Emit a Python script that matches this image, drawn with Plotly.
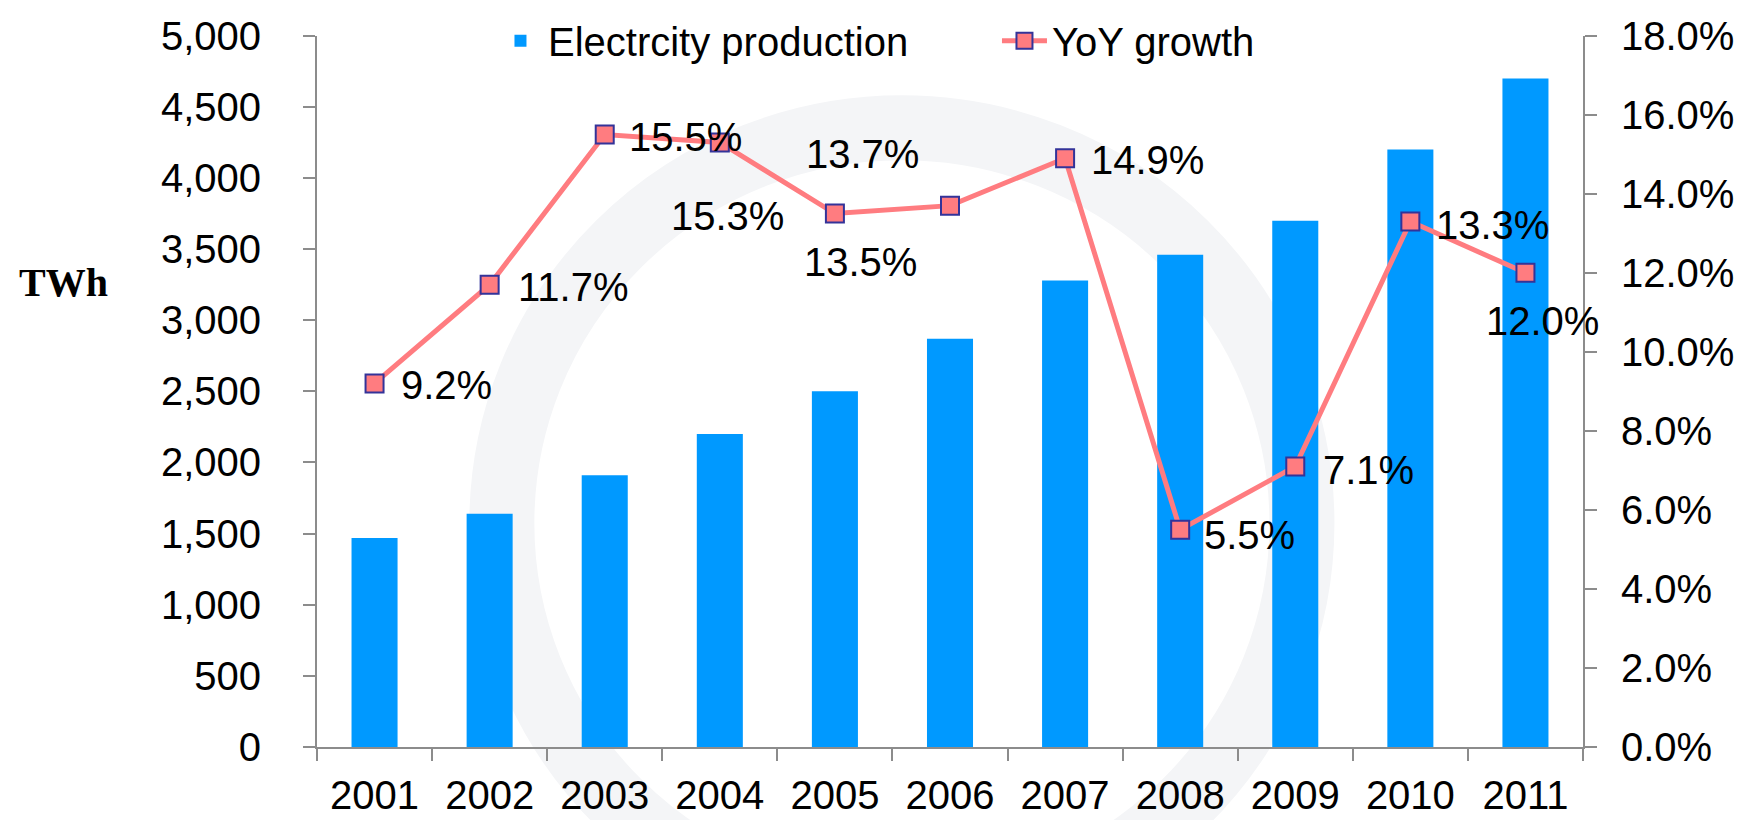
import plotly.graph_objects as go

years = ["2001", "2002", "2003", "2004", "2005", "2006",
         "2007", "2008", "2009", "2010", "2011"]
production_twh = [1470, 1640, 1910, 2200, 2500, 2870, 3280, 3460, 3700, 4200, 4700]
yoy_growth = [9.2, 11.7, 15.5, 15.3, 13.5, 13.7, 14.9, 5.5, 7.1, 13.3, 12.0]
growth_labels = ["9.2%", "11.7%", "15.5%", "15.3%", "13.5%", "13.7%",
                 "14.9%", "5.5%", "7.1%", "13.3%", "12.0%"]

left_ticks = [0, 500, 1000, 1500, 2000, 2500, 3000, 3500, 4000, 4500, 5000]
right_ticks = [0, 2, 4, 6, 8, 10, 12, 14, 16, 18]
right_labels = ["0.0%", "2.0%", "4.0%", "6.0%", "8.0%", "10.0%",
                "12.0%", "14.0%", "16.0%", "18.0%"]

# label placement around each marker: (anchor, xshift, yshift)
label_place = [("left", 24, -2), ("left", 26, -2), ("left", 22, -2),
               ("center", 8, -74), ("center", 26, -48), ("center", -88, 52),
               ("left", 24, -2), ("left", 22, -5), ("left", 26, -4),
               ("left", 24, -4), ("center", 17, -48)]

FONT = "Liberation Sans, Arial, sans-serif"
AXIS = "#8c8c8c"
TOP = 0.973  # plot top inside the paper, leaves room for the legend

fig = go.Figure()

fig.add_trace(go.Bar(
    x=years, y=production_twh, name="Electrcity production",
    marker=dict(color="#0099ff", line=dict(width=0)),
))

fig.add_trace(go.Scatter(
    x=years, y=yoy_growth, name="YoY growth", yaxis="y2",
    mode="lines+markers",
    line=dict(color="#ff7c80", width=5),
    marker=dict(symbol="square", size=18, color="#ff7c80",
                line=dict(color="#333399", width=2)),
    cliponaxis=False,
))

# category axis: annotations take the category index
for i, (val, lab, (anc, dx, dy)) in enumerate(zip(yoy_growth, growth_labels, label_place)):
    fig.add_annotation(x=i, y=val, xref="x", yref="y2", text=lab,
                       showarrow=False, xanchor=anc, yanchor="middle",
                       xshift=dx, yshift=dy,
                       font=dict(size=40, color="black", family=FONT))

# faint watermark ring behind the chart
fig.add_shape(type="circle", xref="paper", yref="paper", layer="below",
              x0=0.146, x1=0.778, y0=-0.235, y1=0.847,
              line=dict(color="#f4f5f7", width=65))

fig.add_annotation(text="<b>TWh</b>", xref="paper", yref="paper",
                   x=-0.2, y=0.635, xanchor="center", yanchor="middle",
                   showarrow=False,
                   font=dict(family="Liberation Serif, Times New Roman, serif",
                             size=40, color="black"))

fig.update_layout(
    width=1751, height=820,
    margin=dict(l=309, r=176, t=0, b=81),
    paper_bgcolor="white", plot_bgcolor="rgba(0,0,0,0)",
    font=dict(family=FONT, size=40, color="black"),
    bargap=0.6,
    showlegend=True,
    legend=dict(orientation="h", x=0.139, xanchor="left", y=0.966,
                yanchor="middle", font=dict(size=40),
                bgcolor="rgba(0,0,0,0)", entrywidth=444, itemwidth=45),
    xaxis=dict(type="category", categoryorder="array", categoryarray=years,
               range=[-0.5, len(years) - 0.5], autorange=False,
               showline=True, linecolor=AXIS, linewidth=2,
               ticks="outside", ticklen=12, tickcolor=AXIS, tickwidth=2,
               tickson="boundaries", showgrid=False, automargin=False,
               tickangle=0, ticklabelstandoff=12, tickfont=dict(size=40)),
    yaxis=dict(range=[0, 5000], autorange=False, tickvals=left_ticks,
               tickformat=",", domain=[0, TOP],
               showline=True, linecolor=AXIS, linewidth=2,
               ticks="outside", ticklen=12, tickcolor=AXIS, tickwidth=2,
               showgrid=False, zeroline=False, automargin=False,
               ticklabelstandoff=34, tickfont=dict(size=40)),
    yaxis2=dict(range=[0, 18], autorange=False, tickvals=right_ticks,
                ticktext=right_labels, overlaying="y", side="right",
                showline=True, linecolor=AXIS, linewidth=2,
                ticks="outside", ticklen=12, tickcolor=AXIS, tickwidth=2,
                showgrid=False, zeroline=False, automargin=False,
                ticklabelstandoff=16, tickfont=dict(size=40)),
)

fig.write_html("out.html")
